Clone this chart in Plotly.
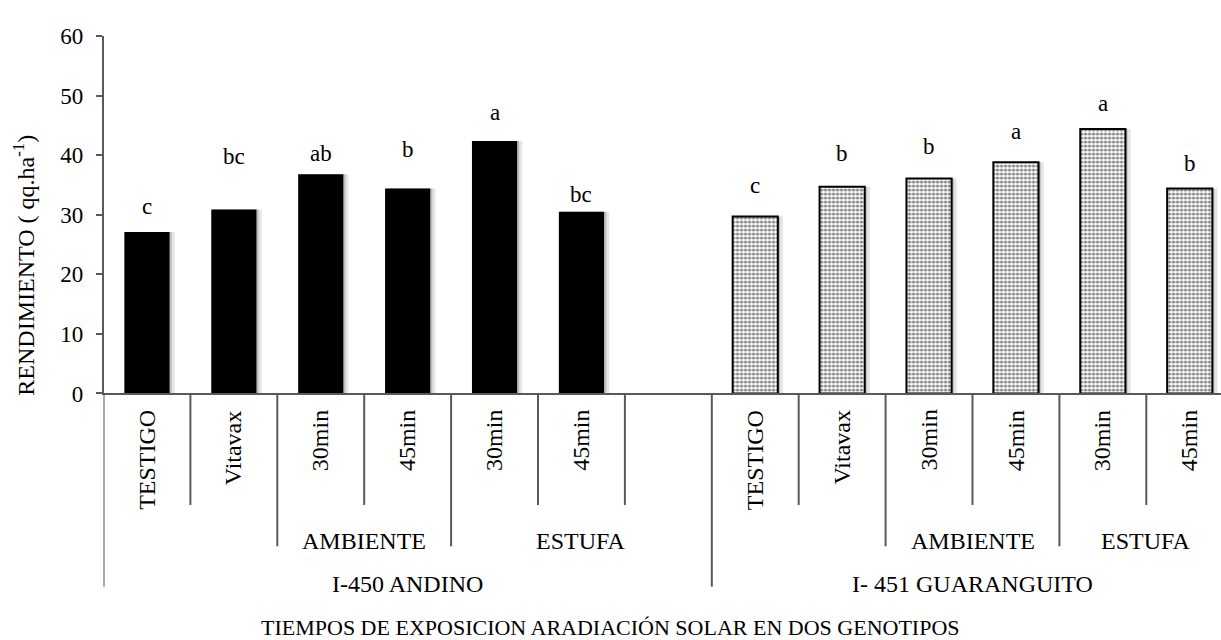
import plotly.graph_objects as go

W, H = 1221, 640

# ---- data ----------------------------------------------------------------
treatments = ["TESTIGO", "Vitavax", "30min", "45min", "30min", "45min"]
methods = ["", "", "AMBIENTE", "AMBIENTE", "ESTUFA", "ESTUFA"]
genotypes = ["I-450 ANDINO", "I- 451 GUARANGUITO"]
andino = [27.1, 30.9, 36.8, 34.4, 42.4, 30.5]
guaranguito = [29.7, 34.7, 36.1, 38.8, 44.4, 34.4]
letters_andino = ["c", "bc", "ab", "b", "a", "bc"]
letters_guaranguito = ["c", "b", "b", "a", "a", "b"]
y_ticks = [0, 10, 20, 30, 40, 50, 60]

# ---- layout constants (pixels) -------------------------------------------
FONT = "Liberation Serif, Times New Roman, serif"
FS_CAT = 24      # category table text
FS_TICK = 23     # y tick labels
FS_LETTER = 23   # significance letters
FS_TITLE = 22    # x axis title
AXIS_COLOR = "#595959"
PLOT_LEFT = 103.5
PLOT_TOP, PLOT_BOTTOM = 25, 397
SLOT_PX = 86.9
BAR_W = 0.52
LEAF_BOTTOM, MID_BOTTOM, FULL_BOTTOM = 513, 556, 598
LEAF_TOP = 412
MID_Y, GENO_Y, TITLE_Y = 551, 595, 640
# distance (px) from bar top to letter baseline
gap_andino = [17, 44, 12, 31, 20, 9]
gap_guaranguito = [23, 25, 23, 22, 17, 17]


def py(p):
    return 1 - p / H


# category slots: genotype 1 uses an extra empty slot after its six bars
n1 = len(treatments) + 1
slot_leaf = treatments + [""] + treatments
slot_method = methods + [methods[-1]] + methods
slot_geno = [genotypes[0]] * n1 + [genotypes[1]] * len(treatments)
n_slots = len(slot_leaf)

x_andino = list(range(len(andino)))
x_guar = [n1 + i for i in range(len(guaranguito))]

x_end = -0.5 + (W - PLOT_LEFT) / SLOT_PX

fig = go.Figure()

# soft drop shadow behind every bar
for shift, alpha, grow in [(0.045, 0.10, 0.03), (0.025, 0.18, 0.0)]:
    for xs, vals in [(x_andino, andino), (x_guar, guaranguito)]:
        fig.add_trace(go.Bar(
            x=xs, y=vals, width=BAR_W + grow,
            offset=-BAR_W / 2 + shift - grow / 2,
            marker=dict(color=f"rgba(0,0,0,{alpha})", line=dict(width=0)),
            hoverinfo="skip", showlegend=False,
        ))

fig.add_trace(go.Bar(
    x=x_andino, y=andino, width=BAR_W,
    marker=dict(color="black", line=dict(color="black", width=0)),
    name=genotypes[0], showlegend=False,
))
fig.add_trace(go.Bar(
    x=x_guar, y=guaranguito, width=BAR_W,
    marker=dict(
        color="white",
        line=dict(color="black", width=2),
        pattern=dict(shape=".", size=4, solidity=0.5,
                     fgcolor="black", bgcolor="white", fillmode="overlay"),
    ),
    name=genotypes[1], showlegend=False,
))

annotations = []

# significance letters above bars
for xs, vals, letters, gaps in [
    (x_andino, andino, letters_andino, gap_andino),
    (x_guar, guaranguito, letters_guaranguito, gap_guaranguito),
]:
    for x, v, t, g in zip(xs, vals, letters, gaps):
        annotations.append(dict(
            x=x, y=v, xref="x", yref="y", text=t, showarrow=False,
            yanchor="bottom", yshift=g - 6,
            font=dict(family=FONT, size=FS_LETTER, color="black"),
        ))

# leaf labels (rotated)
for k, lab in enumerate(slot_leaf):
    if lab:
        annotations.append(dict(
            x=k, y=py(LEAF_TOP), xref="x", yref="paper", text=lab,
            showarrow=False, textangle=-90, xanchor="center", yanchor="top",
            font=dict(family=FONT, size=FS_CAT, color="black"),
        ))


def runs(levels):
    out = []
    start = 0
    for k in range(1, len(levels) + 1):
        if k == len(levels) or levels[k] != levels[start]:
            out.append((levels[start], start, k - 1))
            start = k
    return out


for lab, a, b in runs(slot_method):
    if lab:
        annotations.append(dict(
            x=(a + b) / 2, y=py(MID_Y), xref="x", yref="paper", text=lab,
            showarrow=False, yanchor="middle",
            font=dict(family=FONT, size=FS_CAT, color="black"),
        ))
for lab, a, b in runs(slot_geno):
    annotations.append(dict(
        x=(a + b) / 2, y=py(GENO_Y), xref="x", yref="paper", text=lab,
        showarrow=False, yanchor="middle",
        font=dict(family=FONT, size=FS_CAT, color="black"),
    ))

# axis titles
annotations.append(dict(
    x=610 / W, y=py(TITLE_Y), xref="paper", yref="paper",
    text="TIEMPOS DE EXPOSICION ARADIACIÓN SOLAR EN DOS GENOTIPOS",
    showarrow=False, yanchor="middle", xanchor="center",
    font=dict(family=FONT, size=FS_TITLE, color="black"),
))
annotations.append(dict(
    x=24 / W, y=py(264), xref="paper", yref="paper",
    text="RENDIMIENTO ( qq.ha<sup>-1</sup>)", textangle=-90,
    showarrow=False, xanchor="center", yanchor="middle",
    font=dict(family=FONT, size=FS_CAT, color="black"),
))

# separator lines of the category table
shapes = []
for k in range(n_slots + 1):
    if k == 0 or k == n_slots or slot_geno[k] != slot_geno[k - 1]:
        bottom = FULL_BOTTOM
    elif slot_method[k] != slot_method[k - 1]:
        bottom = MID_BOTTOM
    else:
        bottom = LEAF_BOTTOM
    shapes.append(dict(
        type="line", xref="x", yref="paper",
        x0=k - 0.5, x1=k - 0.5, y0=py(PLOT_BOTTOM), y1=py(bottom),
        line=dict(color=AXIS_COLOR, width=2),
    ))

fig.update_layout(
    width=W, height=H,
    margin=dict(l=0, r=0, t=0, b=0, pad=0),
    paper_bgcolor="white", plot_bgcolor="white",
    barmode="overlay",
    showlegend=False,
    annotations=annotations,
    shapes=shapes,
    font=dict(family=FONT, size=FS_CAT, color="black"),
    xaxis=dict(
        domain=[PLOT_LEFT / W, 1], range=[-0.5, x_end],
        showgrid=False, zeroline=False, showticklabels=False, ticks="",
        showline=True, linecolor=AXIS_COLOR, linewidth=2,
    ),
    yaxis=dict(
        domain=[py(PLOT_BOTTOM), py(PLOT_TOP)], range=[0, 60],
        tickvals=y_ticks, ticks="outside", ticklen=6, tickwidth=1.5,
        tickcolor=AXIS_COLOR, showgrid=False, zeroline=False,
        showline=True, linecolor=AXIS_COLOR, linewidth=1.5,
        ticklabelstandoff=8,
        tickfont=dict(family=FONT, size=FS_TICK, color="black"),
    ),
)

fig.write_html("out.html")
